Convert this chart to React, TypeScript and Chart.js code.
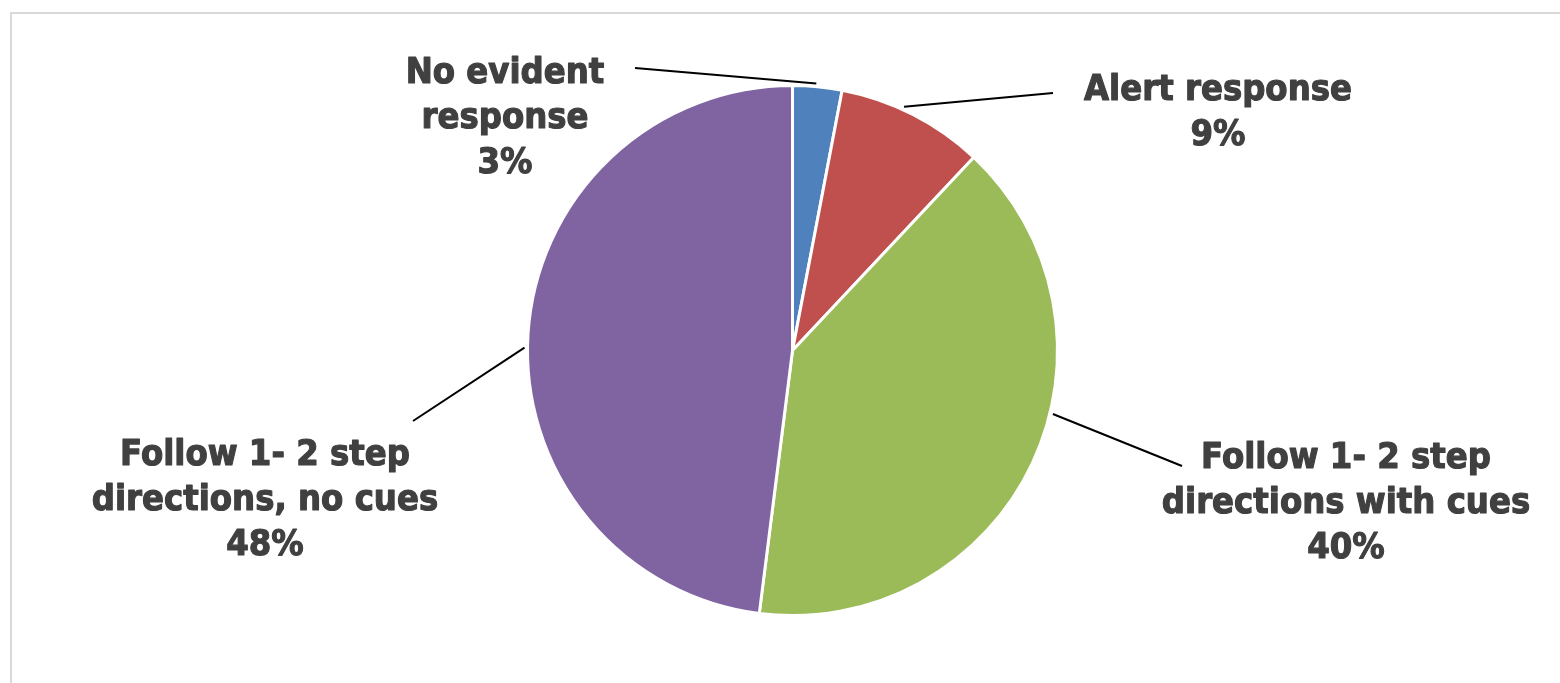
import React, { useEffect, useRef } from "react";
import { Chart, registerables } from "chart.js";

Chart.register(...registerables);

// ---- Data ----
const categories = [
  "No evident response",
  "Alert response",
  "Follow 1- 2 step directions with cues",
  "Follow 1- 2 step directions, no cues",
];
const values = [3, 9, 40, 48];
const labelLines = [
  ["No evident", "response"],
  ["Alert response"],
  ["Follow 1- 2 step", "directions with cues"],
  ["Follow 1- 2 step", "directions, no cues"],
];
const colors = ["#4F81BD", "#C0504D", "#9BBB59", "#8064A2"];

// ---- Label layout (annotation positions) ----
const labelCenterX = [505, 1218, 1346, 265];
const labelFirstBaseline = [83, 100, 468, 465];
const leaderOuter = [
  [635, 68],
  [1053, 93],
  [1182, 466],
  [413, 421],
];
const leaderAngleDeg = [5.1, 24.6, 103.7, 270.6];
const LINE_HEIGHT = 45;

const labelPlugin = {
  id: "pieLabels",
  beforeDraw(chart: any) {
    const ctx = chart.ctx;
    ctx.save();
    ctx.fillStyle = "#ffffff";
    ctx.fillRect(0, 0, chart.width, chart.height);
    ctx.strokeStyle = "#d9d9d9";
    ctx.lineWidth = 2;
    ctx.strokeRect(11, 13, 1700, 800);
    ctx.restore();
  },
  afterDatasetsDraw(chart: any) {
    const ctx = chart.ctx;
    const meta = chart.getDatasetMeta(0);
    const arc = meta.data[0];
    const { x: cx, y: cy, outerRadius } = arc.getProps(["x", "y", "outerRadius"], true);
    ctx.save();
    // leader lines
    ctx.strokeStyle = "#000000";
    ctx.lineWidth = 2;
    values.forEach((_, i) => {
      const a = (leaderAngleDeg[i] * Math.PI) / 180;
      const r = outerRadius + 3;
      const sx = cx + r * Math.sin(a);
      const sy = cy - r * Math.cos(a);
      ctx.beginPath();
      ctx.moveTo(sx, sy);
      ctx.lineTo(leaderOuter[i][0], leaderOuter[i][1]);
      ctx.stroke();
    });
    // labels
    ctx.fillStyle = "#404040";
    ctx.strokeStyle = "#404040";
    ctx.lineWidth = 1.2;
    ctx.lineJoin = "round";
    ctx.font = 'bold 36px "DejaVu Sans", sans-serif';
    ctx.textAlign = "center";
    ctx.textBaseline = "alphabetic";
    const total = values.reduce((s, v) => s + v, 0);
    values.forEach((v, i) => {
      const lines = [...labelLines[i], `${Math.round((v / total) * 100)}%`];
      lines.forEach((t, j) => {
        ctx.save();
        ctx.translate(labelCenterX[i], labelFirstBaseline[i] + j * LINE_HEIGHT);
        ctx.scale(0.9, 1);
        ctx.fillText(t, 0, 0);
        ctx.strokeText(t, 0, 0);
        ctx.restore();
      });
    });
    ctx.restore();
  },
};

export default function App() {
  const canvasRef = useRef<HTMLCanvasElement | null>(null);

  useEffect(() => {
    document.body.style.margin = "0";
    const canvas = canvasRef.current;
    if (!canvas) return;
    const chart = new Chart(canvas, {
      type: "pie",
      data: {
        labels: categories,
        datasets: [
          {
            data: values,
            backgroundColor: colors,
            borderColor: "#ffffff",
            borderWidth: 3,
          },
        ],
      },
      options: {
        responsive: false,
        animation: false,
        devicePixelRatio: 1,
        layout: { padding: { top: 84, bottom: 66, left: 25, right: 0 } },
        plugins: {
          legend: { display: false },
          tooltip: { enabled: false },
          title: { display: false },
        },
      },
      plugins: [labelPlugin],
    });
    return () => chart.destroy();
  }, []);

  return (
    <div style={{ position: "fixed", left: 0, top: 0, width: 1560, height: 683, background: "#fff" }}>
      <canvas ref={canvasRef} width={1560} height={683} style={{ display: "block" }} />
    </div>
  );
}
